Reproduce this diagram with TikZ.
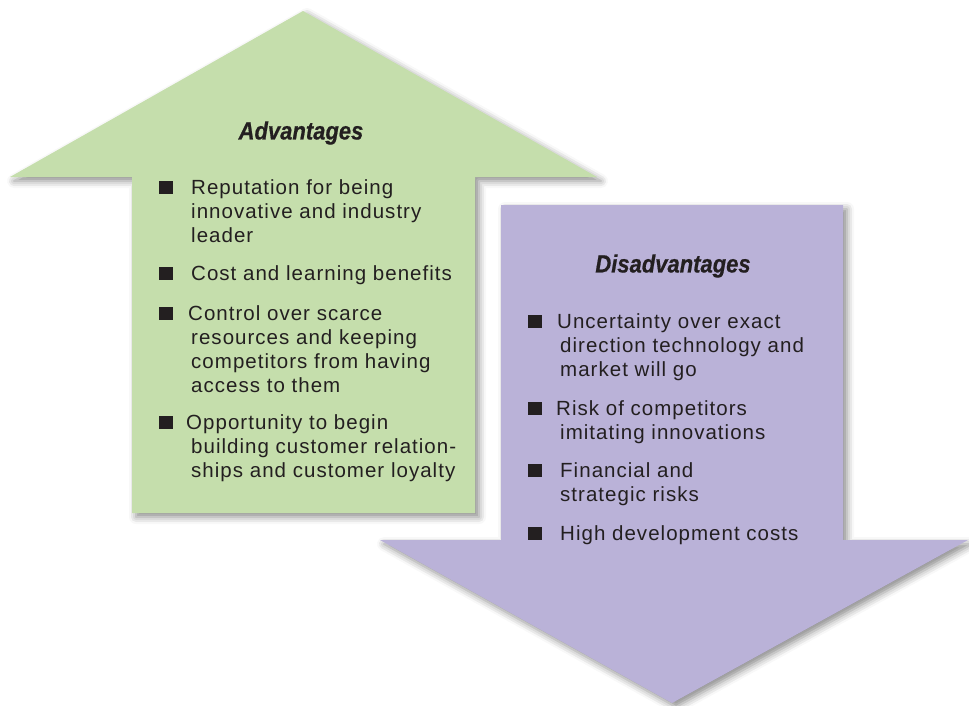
\documentclass[tikz,border=0pt]{standalone}
\usepackage{fontspec}
\usetikzlibrary{shadows.blur}
\newfontfamily\bodyfont{Liberation Sans}[LetterSpace=5]
\newfontfamily\titlefont{Liberation Sans}[FakeStretch=0.88, FakeBold=0.6]
\definecolor{advgreen}{RGB}{197,222,172}
\definecolor{dispurple}{RGB}{186,178,216}
\definecolor{inkdark}{RGB}{35,31,32}
\tikzset{
  arrowshape/.style={draw=none, blur shadow={shadow xshift=4pt, shadow yshift=-4pt, shadow blur radius=7pt, shadow opacity=45}},
  titletext/.style={inner sep=0pt, text=inkdark, font=\titlefont\fontsize{25}{28}\selectfont\bfseries\itshape},
  linetext/.style={anchor=base west, inner sep=0pt, text=inkdark, font=\bodyfont\fontsize{20.5}{24}\selectfont},
  bulletbox/.style={rectangle, fill=inkdark, inner sep=0pt, minimum width=14pt, minimum height=13pt}
}
\begin{document}
\begin{tikzpicture}[x=1pt, y=-1pt]
\useasboundingbox (0,0) rectangle (969,705);
% green arrow
\fill[advgreen, arrowshape] (303,11) -- (597,177) -- (475,177) -- (475,513) -- (132,513) -- (132,177) -- (10,177) -- cycle;
% purple arrow
\fill[dispurple, arrowshape] (501,205) -- (843,205) -- (843,540) -- (968,540) -- (672,703) -- (380,540) -- (501,540) -- cycle;
% titles
\node[titletext] (advtitle) at (301,133) {Advantages};
\node[titletext] (distitle) at (673,266) {Disadvantages};
% advantages
\node[bulletbox] (ab1) at (166,187) {};
\node[linetext] (a1a) at (191,194) {Reputation for being};
\node[linetext] (a1b) at (191,218) {innovative and industry};
\node[linetext] (a1c) at (191,242) {leader};
\node[bulletbox] (ab2) at (166,273) {};
\node[linetext] (a2a) at (191,280) {Cost and learning benefits};
\node[bulletbox] (ab3) at (166,313) {};
\node[linetext] (a3a) at (188,320) {Control over scarce};
\node[linetext] (a3b) at (191,344) {resources and keeping};
\node[linetext] (a3c) at (191,368) {competitors from having};
\node[linetext] (a3d) at (191,392) {access to them};
\node[bulletbox] (ab4) at (166,422) {};
\node[linetext] (a4a) at (186,429) {Opportunity to begin};
\node[linetext] (a4b) at (191,453) {building customer relation-};
\node[linetext] (a4c) at (191,477) {ships and customer loyalty};
% disadvantages
\node[bulletbox] (db1) at (535,321) {};
\node[linetext] (d1a) at (557,328) {Uncertainty over exact};
\node[linetext] (d1b) at (560,352) {direction technology and};
\node[linetext] (d1c) at (560,376) {market will go};
\node[bulletbox] (db2) at (535,408) {};
\node[linetext] (d2a) at (556,415) {Risk of competitors};
\node[linetext] (d2b) at (560,439) {imitating innovations};
\node[bulletbox] (db3) at (535,470) {};
\node[linetext] (d3a) at (560,477) {Financial and};
\node[linetext] (d3b) at (560,501) {strategic risks};
\node[bulletbox] (db4) at (535,533) {};
\node[linetext] (d4a) at (560,540) {High development costs};
\end{tikzpicture}
\end{document}
